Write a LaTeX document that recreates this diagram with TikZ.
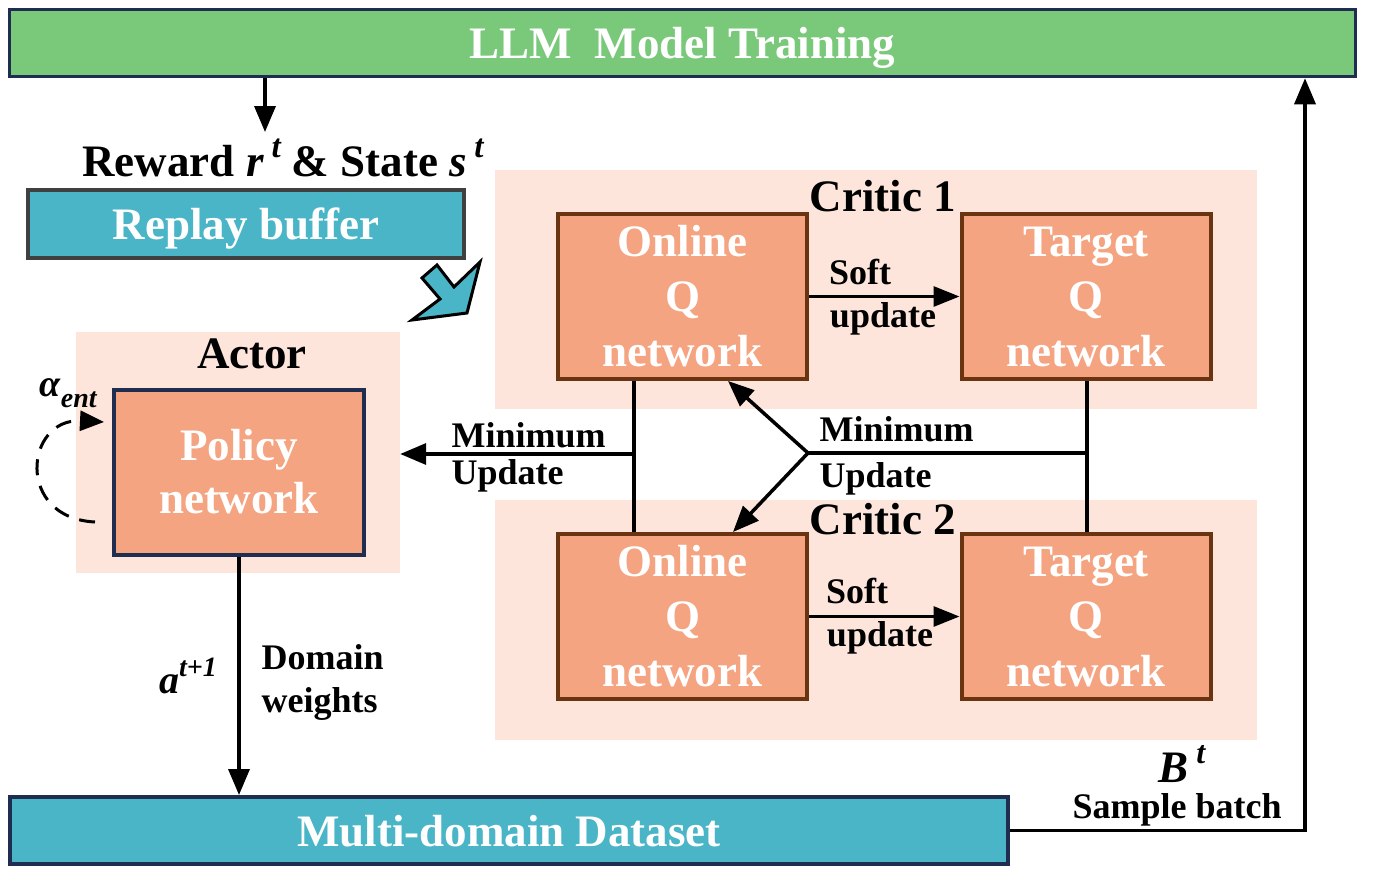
\documentclass[tikz,border=0pt]{standalone}
\usepackage{fontspec}
\setmainfont{Liberation Serif}
\usetikzlibrary{arrows.meta}
\definecolor{llmgreen}{HTML}{7AC97B}
\definecolor{tealbox}{HTML}{4BB5C8}
\definecolor{salmon}{HTML}{F5A482}
\definecolor{pinkbg}{HTML}{FDE5DC}
\definecolor{navy}{HTML}{1F2D50}
\definecolor{brownb}{HTML}{6B3410}
\definecolor{grayb}{HTML}{404040}
\newcommand\supx[3]{\raisebox{#1}{\fontsize{#2}{#2}\selectfont\bfseries\itshape #3}}
\begin{document}
\begin{tikzpicture}[x=1pt,y=-1pt,
  big/.style={font=\fontsize{45}{54}\selectfont\bfseries},
  small/.style={font=\fontsize{36}{43}\selectfont\bfseries},
  netbox/.style={draw=brownb,line width=4pt,fill=salmon,minimum width=249pt,minimum height=165pt,inner sep=0pt,text=white,align=center,font=\fontsize{45}{55}\selectfont\bfseries},
  bgbox/.style={fill=pinkbg,inner sep=0pt},
  conn/.style={line width=3.5pt},
  arr/.style={line width=3.5pt,-{Triangle[length=26pt,width=21pt]}},
  sarr/.style={line width=3pt,-{Triangle[length=26pt,width=20pt]}}]
\useasboundingbox (0,0) rectangle (1378,886);
% backgrounds
\node[bgbox,minimum width=324pt,minimum height=241pt] (actorbg) at (238,452.5) {};
\node[bgbox,minimum width=762pt,minimum height=239pt] (c1bg) at (876,289.5) {};
\node[bgbox,minimum width=762pt,minimum height=240pt] (c2bg) at (876,620) {};
% main boxes
\node[draw=navy,line width=3.5pt,fill=llmgreen,minimum width=1346pt,minimum height=67pt,inner sep=0pt,text=white,big,text depth=0pt] (llm) at (682.5,43) {LLM\ \ Model Training};
\node[draw=grayb,line width=4pt,fill=tealbox,minimum width=436pt,minimum height=68pt,inner sep=0pt,text=white,big,text depth=0pt] (replay) at (246,224) {Replay buffer};
\node[draw=navy,line width=4pt,fill=tealbox,minimum width=998pt,minimum height=67pt,inner sep=0pt,text=white,big,text depth=0pt] (dataset) at (509,830.5) {Multi-domain Dataset};
\node[draw=navy,line width=4pt,fill=salmon,minimum width=250pt,minimum height=165pt,inner sep=0pt,text=white,align=center,font=\fontsize{45}{53}\selectfont\bfseries] (policy) at (239,472) {Policy\\network};
\node[netbox] (oq1) at (682.5,296.5) {Online\\Q\\network};
\node[netbox] (tq1) at (1086,296.5) {Target\\Q\\network};
\node[netbox] (oq2) at (682.5,616.5) {Online\\Q\\network};
\node[netbox] (tq2) at (1086,616.5) {Target\\Q\\network};
% titles
\node[big] (actortitle) at (252,354) {Actor};
\node[big] (c1title) at (883,196) {Critic 1};
\node[big] (c2title) at (883,519) {Critic 2};
\node[big] (reward) at (283,158) {Reward \textit{r}\,\supx{0.42em}{33}{t} \& State \textit{s}\,\supx{0.42em}{33}{t}};
% fat arrow
\draw[line width=3pt,fill=tealbox,line join=miter] (437,265) -- (454,287) -- (480,262) -- (467,313) -- (412,320) -- (440,299) -- (422,278) -- cycle;
% LLM -> reward
\coordinate (rwtop) at (265,132);
\draw[arr] (llm.south -| rwtop) -- (rwtop);
% soft updates
\draw[sarr] (oq1.east) -- (tq1.west);
\draw[sarr] (oq2.east) -- (tq2.west);
\node[small] (soft1) at (860,272) {Soft};
\node[small] (upd1) at (883,319) {update};
\node[small] (soft2) at (857,591) {Soft};
\node[small] (upd2) at (880,638) {update};
% left minimum update
\coordinate (vl) at (634,454);
\draw[conn] (oq1.south -| vl) -- (oq2.north -| vl);
\draw[arr] (vl) -- (vl -| actorbg.east);
\node[small,anchor=west] (min1) at (448,435) {Minimum};
\node[small,anchor=west] (up1) at (448,476) {Update};
% right minimum update
\coordinate (vr) at (1087,453);
\coordinate (fork) at (808,453);
\coordinate (tipa) at (728,0);
\coordinate (tipb) at (733,0);
\draw[conn] (tq1.south -| vr) -- (tq2.north -| vr);
\draw[conn] (vr) -- (fork);
\draw[arr] (fork) -- (oq1.south -| tipa);
\draw[arr] (fork) -- (oq2.north -| tipb);
\node[small,anchor=west] (min2) at (816,429) {Minimum};
\node[small,anchor=west] (up2) at (816,479) {Update};
% actor -> dataset
\draw[arr] (policy.south) -- (dataset.north -| policy.south);
\node[font=\fontsize{40}{43}\selectfont\bfseries] (aplus) at (188,676) {\textit{a}\supx{0.42em}{28}{t}\supx{0.42em}{28}{+1}};
\node[small,anchor=west,align=left] (dw) at (258,682) {Domain\\weights};
% dataset -> llm
\coordinate (rc) at (1305,830.5);
\draw[arr] (dataset.east) -- (rc) -- (llm.south -| rc);
\node[big] (bt) at (1182,764) {\textit{B}\,\supx{0.42em}{32}{t}};
\node[small,text depth=0pt] (sb) at (1177,806) {Sample batch};
% entropy loop
\coordinate (loopa) at (95,522);
\coordinate (loopb) at (104,422);
\draw[line width=3pt,dash pattern=on 16pt off 11pt,-{Triangle[length=24pt,width=20pt]}] (loopa) .. controls (15,518) and (25,418) .. (loopb);
\node[font=\fontsize{38}{43}\selectfont\bfseries] (alpha) at (68,393) {\textit{α}\supx{-0.3em}{28}{ent}};
\end{tikzpicture}
\end{document}
